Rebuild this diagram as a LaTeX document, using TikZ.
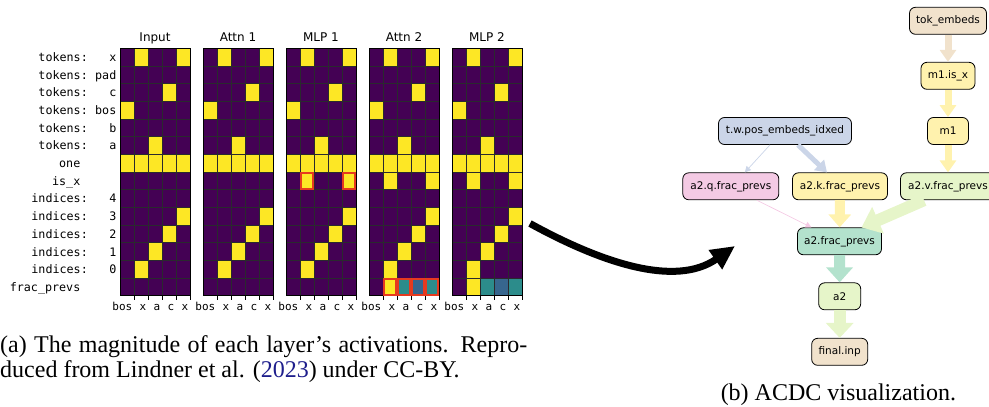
\documentclass[tikz,border=0pt]{standalone}
\usepackage{fontspec}
\setmainfont{Liberation Serif}
\newfontfamily\dvs{DejaVu Sans}
\newfontfamily\dvm{DejaVu Sans Mono}
\usetikzlibrary{arrows.meta}
\definecolor{vpurple}{HTML}{440154}
\definecolor{vyellow}{HTML}{FDE725}
\definecolor{vteal}{HTML}{2C8C8B}
\definecolor{vblue}{HTML}{37668E}
\definecolor{gridc}{HTML}{2A2A2E}
\definecolor{hlred}{HTML}{E63A1F}
\definecolor{ptan}{HTML}{F1E2CC}
\definecolor{pyellow}{HTML}{FFF2AE}
\definecolor{pblue}{HTML}{CBD5E8}
\definecolor{ppink}{HTML}{F4CAE4}
\definecolor{pgreen}{HTML}{E6F5C9}
\definecolor{pmint}{HTML}{B3E2CD}
\definecolor{citeblue}{HTML}{1E1E8C}
\newcommand\hmcell[4]{\filldraw[fill=#4,draw=gridc,line width=0.6pt] ({120+83*#1+14*#3},{48.3+17.67*#2}) rectangle ++(14,17.67);}
\newcommand\hmred[3]{\draw[hlred,line width=2pt] ({120+83*#1+14*#3+1},{48.3+17.67*#2+1}) rectangle ++(12,15.67);}
\tikzset{
  lab/.style={inner sep=0pt, font=\dvm\fontsize{11.7}{13}\selectfont},
  ticklab/.style={inner sep=0pt, font=\dvm\fontsize{11}{13}\selectfont, anchor=base east},
  paneltitle/.style={inner sep=0pt, font=\dvs\fontsize{12}{14}\selectfont, anchor=base},
  gnode/.style={draw, rounded corners=6pt, line width=0.8pt, minimum height=27pt, inner xsep=6pt, font=\dvs\fontsize{10.5}{12}\selectfont},
  gedge/.style n args={4}{draw=#1, line width=#2, -{Triangle[length=#3,width=#4]}},
  caption/.style={inner sep=0pt, font=\fontsize{24}{24}\selectfont}
}
\begin{document}
\begin{tikzpicture}[x=1pt,y=-1pt]
\useasboundingbox (0,0) rectangle (989,407);
% ---------- heatmaps ----------
\foreach \p/\t in {0/Input,1/Attn 1,2/MLP 1,3/Attn 2,4/MLP 2} {
  \node[paneltitle] (title\p) at ({155+83*\p},41.7) {\t};
  \foreach \r in {0,...,13} { \foreach \c in {0,...,4} { \hmcell{\p}{\r}{\c}{vpurple} } }
  \foreach \r/\c in {0/1,0/4,2/3,3/0,5/2,6/0,6/1,6/2,6/3,6/4,9/4,10/3,11/2,12/1} { \hmcell{\p}{\r}{\c}{vyellow} }
  \foreach \c/\l in {0/bos,1/x,2/a,3/c,4/x} {
    \draw[line width=0.8pt] ({134+83*\p+14*\c},295.7) -- ++(0,4.5);
    \node[ticklab] (tick\p\c) at ({132.5+83*\p+14*\c},310.7) {\l};
  }
}
\foreach \p in {2,3,4} { \hmcell{\p}{7}{1}{vyellow} \hmcell{\p}{7}{4}{vyellow} }
\foreach \p in {3,4} {
  \hmcell{\p}{13}{1}{vyellow} \hmcell{\p}{13}{2}{vteal} \hmcell{\p}{13}{3}{vblue} \hmcell{\p}{13}{4}{vteal}
}
\foreach \p in {0,...,4} { \draw[line width=1pt] ({120+83*\p},48.3) rectangle ++(70,247.4); }
\hmred{2}{7}{1} \hmred{2}{7}{4}
\hmred{3}{13}{1} \hmred{3}{13}{2} \hmred{3}{13}{3} \hmred{3}{13}{4}
% row labels
\foreach \r/\v in {0/x,1/pad,2/c,3/bos,4/b,5/a} {
  \node[lab, anchor=base east] (rn\r) at (88,{48.3+17.67*\r+8.83+4.5}) {tokens:};
  \node[lab, anchor=base east] (rv\r) at (116.5,{48.3+17.67*\r+8.83+4.5}) {\v};
}
\node[lab, anchor=base east] (rn6) at (80.5,{48.3+17.67*6+8.83+4.5}) {one};
\node[lab, anchor=base east] (rn7) at (80.5,{48.3+17.67*7+8.83+4.5}) {is\_x};
\foreach \r/\v in {8/4,9/3,10/2,11/1,12/0} {
  \node[lab, anchor=base east] (rn\r) at (88,{48.3+17.67*\r+8.83+4.5}) {indices:};
  \node[lab, anchor=base east] (rv\r) at (116.5,{48.3+17.67*\r+8.83+4.5}) {\v};
}
\node[lab, anchor=base east] (rn13) at (80.5,{48.3+17.67*13+8.83+4.5}) {frac\_prevs};
% ---------- big arrow ----------
\coordinate (bs) at (530,223.5);
\coordinate (be) at (735,246);
\draw[line width=7pt, -{Triangle[length=24pt,width=22pt]}] (bs) .. controls (600,262) and (675,288) .. (be);
% ---------- graph ----------
\node[gnode, fill=ptan, minimum width=77pt] (tok) at (948,20.8) {tok\_embeds};
\node[gnode, fill=pyellow, minimum width=54pt] (isx) at (948,75.8) {m1.is\_x};
\node[gnode, fill=pyellow, minimum width=41pt] (m1) at (948,131) {m1};
\node[gnode, fill=pblue, minimum width=133pt] (tw) at (785,131) {t.w.pos\_embeds\_idxed};
\node[gnode, fill=ppink, minimum width=96pt] (aq) at (730.8,186.3) {a2.q.frac\_prevs};
\node[gnode, fill=pyellow, minimum width=95pt] (ak) at (840,186.3) {a2.k.frac\_prevs};
\node[gnode, fill=pgreen, minimum width=95pt] (av) at (948,186.3) {a2.v.frac\_prevs};
\node[gnode, fill=pmint, minimum width=84pt] (afp) at (839.5,241.3) {a2.frac\_prevs};
\node[gnode, fill=pgreen, minimum width=42pt] (a2) at (839.7,296.3) {a2};
\node[gnode, fill=ptan, minimum width=56pt] (fin) at (839.7,351.8) {final.inp};
\draw[gedge={ptan}{7pt}{12pt}{16pt}] (tok) -- (isx);
\draw[gedge={pyellow}{7pt}{12pt}{16pt}] (isx) -- (m1);
\draw[gedge={pyellow}{7pt}{12pt}{16pt}] (m1) -- (av);
\draw[gedge={pblue}{5pt}{11pt}{14pt}] ([xshift=13pt]tw.south) -- ([xshift=-13pt]ak.north);
\draw[gedge={pblue}{0.7pt}{6pt}{6pt}] ([xshift=-15pt]tw.south) -- ([xshift=14pt]aq.north);
\draw[gedge={ppink}{0.7pt}{6pt}{6pt}] ([xshift=26pt]aq.south) -- ([xshift=-28pt]afp.north);
\draw[gedge={pyellow}{10pt}{13pt}{22pt}] (ak) -- (afp);
\draw[gedge={pgreen}{12pt}{18pt}{28pt}] ([xshift=-24pt]av.south) -- ([xshift=22pt]afp.north);
\draw[gedge={pmint}{11pt}{15pt}{26pt}] (afp) -- (a2);
\draw[gedge={pgreen}{12pt}{15pt}{27pt}] (a2) -- (fin);
% ---------- captions ----------
\node[caption, anchor=base west] (capa1) at (0,352.7) {\makebox[527pt][s]{(a) The magnitude of each layer’s activations. Repro-}};
\node[caption, anchor=base west] (capa2) at (0,377.3) {duced from Lindner et al. (\textcolor{citeblue}{2023}) under CC-BY.};
\node[caption, anchor=base] (capb) at (838.4,400.7) {(b) ACDC visualization.};
\end{tikzpicture}
\end{document}
